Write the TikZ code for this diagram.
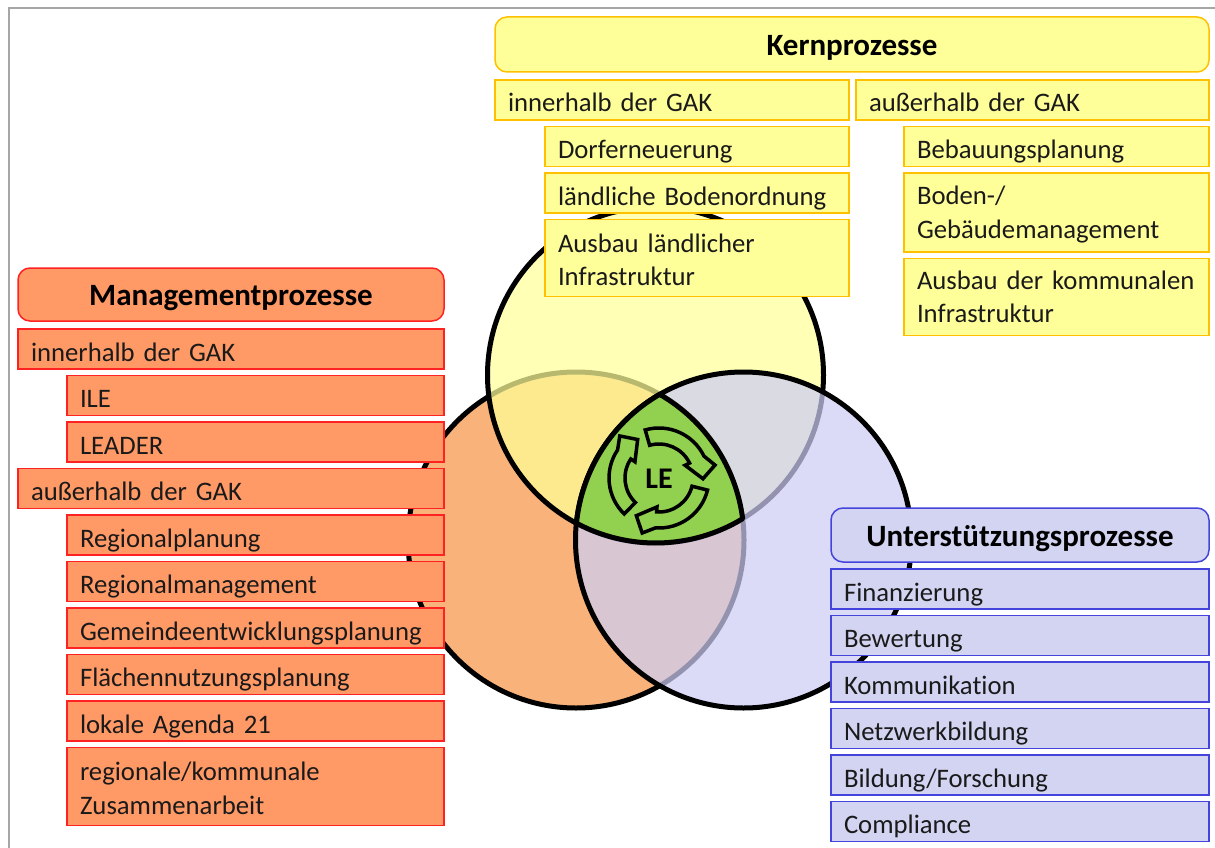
\documentclass[tikz,border=0pt]{standalone}
\usepackage{fontspec}
\setmainfont{Carlito}[Ligatures=NoCommon, WordSpace=0.6]
\usetikzlibrary{positioning}
\definecolor{kernfill}{HTML}{FFFF99}
\definecolor{kernline}{HTML}{FFC000}
\definecolor{mgmtfill}{HTML}{FF9966}
\definecolor{mgmtline}{HTML}{FF2222}
\definecolor{suppfill}{HTML}{D2D4F2}
\definecolor{suppline}{HTML}{4444DD}
\definecolor{ringfill}{HTML}{F79646}
\definecolor{ringblue}{HTML}{CDCDF5}
\definecolor{lefill}{HTML}{92D050}
\definecolor{inktext}{HTML}{1A1A1A}
\tikzset{
    procbox/.style={draw, line width=1.5pt, outer sep=0pt, inner xsep=13pt, inner ysep=0pt,
        align=left, minimum height=#1, text height=30pt, text depth=6pt, text=inktext,
        font=\fontsize{26.7}{33.5}\selectfont},
    procbox/.default=40pt,
    twoline/.style={text height=12pt, text depth=24pt},
    twolineup/.style={text height=10pt, text depth=26pt},
    headbox/.style={draw, line width=1.5pt, outer sep=0pt, rounded corners=12pt, minimum height=55pt,
        text height=31pt, text depth=9pt,
        font=\fontsize{31}{33}\selectfont\bfseries},
    kern/.style={fill=kernfill, draw=kernline},
    mgmt/.style={fill=mgmtfill, draw=mgmtline},
    supp/.style={fill=suppfill, draw=suppline},
    ring/.style={line width=5pt, fill opacity=0.72},
    leftstack/.style={below=6.5pt of #1.south east, anchor=north east}
}
\begin{document}
\begin{tikzpicture}[x=1pt, y=-1pt]
    \useasboundingbox (0,0) rectangle (1215,848);
    \coordinate (frameb) at (9,848);
    \coordinate (framec) at (9,8);
    \coordinate (framer) at (1215,8);
    \draw[line width=2pt, black!35] (frameb) -- (framec) -- (framer);

    \draw[ring, fill=ringfill] (576,540) circle[radius=168pt];
    \draw[ring, fill=kernfill] (655.5,375) circle[radius=168pt];
    \draw[ring, fill=ringblue] (743.5,540) circle[radius=168pt];

    \draw[line width=5pt, fill=lefill, line join=round] (659.75,394.4)
        arc[start angle=60.1, end angle=7.3, radius=168pt]
        arc[start angle=-58.8, end angle=-118.1, radius=168pt]
        arc[start angle=174.3, end angle=119.9, radius=168pt] -- cycle;
    \foreach \a in {0,-120,-240}{
        \begin{scope}[shift={(659,478)}, rotate=\a]
            \draw[line width=3.5pt] (106:50pt) arc[start angle=106, end angle=26, radius=50pt]
                -- (13:57.5pt) -- (-1:44pt) -- (26:29pt) -- (26:34pt)
                arc[start angle=26, end angle=106, radius=34pt] -- cycle;
        \end{scope}
    }
    \node[font=\fontsize{30}{30}\selectfont\bfseries] (le) at (659,479) {LE};

    \node[headbox, kern, anchor=north west, minimum width=714pt] (kern) at (495,17) {Kernprozesse};
    \node[procbox, kern, anchor=north west, text width=328pt] (kernin) at (495,80) {innerhalb der GAK};
    \node[procbox, kern, anchor=north west, text width=327pt] (kernout) at (856,80) {außerhalb der GAK};
    \node[procbox, kern, leftstack=kernin, text width=278pt] (dorf) {Dorferneuerung};
    \node[procbox, kern, leftstack=dorf, text width=278pt] (boden) {ländliche Bodenordnung};
    \node[procbox=77pt, twoline, kern, leftstack=boden, text width=278pt] (infra) {Ausbau ländlicher\\Infrastruktur};
    \node[procbox, kern, leftstack=kernout, text width=279pt] (bebau) {Bebauungsplanung};
    \node[procbox=79pt, twolineup, kern, leftstack=bebau, text width=279pt] (gebaeude) {Boden-/\\Gebäudemanagement};
    \node[procbox=77pt, twolineup, kern, leftstack=gebaeude, text width=279pt] (kommunal) {Ausbau der kommunalen\\Infrastruktur};

    \node[headbox, mgmt, anchor=north west, minimum width=426pt, minimum height=53pt] (mgmt) at (18,268) {Managementprozesse};
    \node[procbox, mgmt, anchor=north west, text width=400pt] (mgmtin) at (18,329) {innerhalb der GAK};
    \node[procbox, mgmt, leftstack=mgmtin, text width=351pt] (ile) {ILE};
    \node[procbox, mgmt, leftstack=ile, text width=351pt] (leader) {LEADER};
    \node[procbox, mgmt, leftstack=leader, text width=400pt] (mgmtout) {außerhalb der GAK};
    \node[procbox, mgmt, leftstack=mgmtout, text width=351pt] (rplan) {Regionalplanung};
    \node[procbox, mgmt, leftstack=rplan, text width=351pt] (rman) {Regionalmanagement};
    \node[procbox, mgmt, leftstack=rman, text width=351pt] (gemeinde) {Gemeindeentwicklungsplanung};
    \node[procbox, mgmt, leftstack=gemeinde, text width=351pt] (flaeche) {Flächennutzungsplanung};
    \node[procbox, mgmt, leftstack=flaeche, text width=351pt] (agenda) {lokale Agenda 21};
    \node[procbox=78pt, twoline, mgmt, leftstack=agenda, text width=351pt] (zusammen) {regionale/kommunale\\Zusammenarbeit};

    \node[headbox, supp, anchor=north west, minimum width=378pt, minimum height=54pt] (supp) at (831,508) {Unterstützungsprozesse};
    \node[procbox, supp, anchor=north west, text width=352pt] (finanz) at (831,569) {Finanzierung};
    \node[procbox, supp, leftstack=finanz, text width=352pt] (bewert) {Bewertung};
    \node[procbox, supp, leftstack=bewert, text width=352pt] (kommu) {Kommunikation};
    \node[procbox, supp, leftstack=kommu, text width=352pt] (netz) {Netzwerkbildung};
    \node[procbox, supp, leftstack=netz, text width=352pt] (bildung) {Bildung/Forschung};
    \node[procbox, supp, leftstack=bildung, text width=352pt] (compl) {Compliance};
\end{tikzpicture}
\end{document}
